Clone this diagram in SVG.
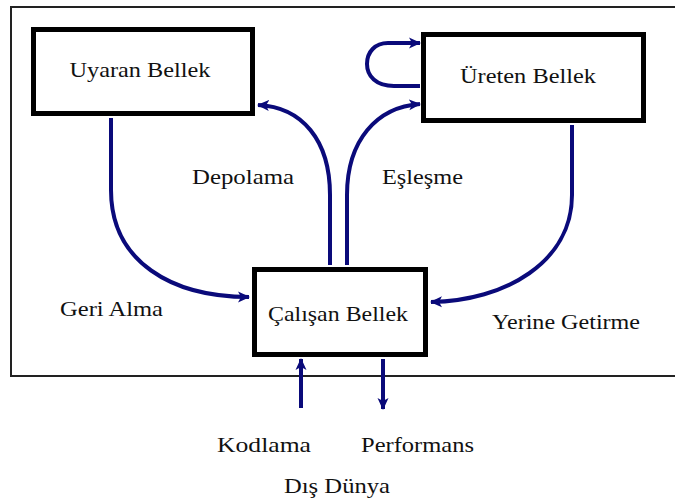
<svg xmlns="http://www.w3.org/2000/svg" width="675" height="501" viewBox="0 0 675 501">
<style>
.box{fill:#fff;stroke:#000;stroke-width:5}
.lbl{font-size:22px;fill:#111;text-anchor:middle}
.con{fill:none;stroke:#0a0a7a;stroke-width:4}
.arr{marker-end:url(#ah)}
</style>
<defs>
<marker id="ah" viewBox="0 0 12 12" refX="11" refY="6" markerWidth="12" markerHeight="12" markerUnits="userSpaceOnUse" orient="auto">
<path d="M0,0.5 L12,6 L0,11.5 L3,6 z" fill="#0a0a7a"/>
</marker>
</defs>
<rect width="675" height="501" fill="#fff"/>
<path id="frame" d="M675,7 H11 V376 H675" fill="none" stroke="#222" stroke-width="2"/>
<g id="connectors">
<path class="con arr" d="M111,118 V190 C111,262 172,297 249,297"/>
<path class="con arr" d="M572,125 V195 C572,262 505,301 431,302"/>
<path class="con arr" d="M330,265 V195 C330,140 302,107 258,105"/>
<path class="con arr" d="M347,265 V195 C347,140 377,107 420,104"/>
<path class="con arr" d="M420,86 H394 C376,86 367,76 367,64 C367,52 375,43 388,43 H420"/>
<path class="con arr" d="M301,408 V359"/>
<path class="con arr" d="M383,359 V409"/>
</g>
<g font-family="Liberation Serif, Times New Roman, serif">
<g id="uyaran">
<rect class="box" x="33.5" y="29.5" width="219" height="84"/>
<text class="lbl" x="140" y="77" textLength="141" lengthAdjust="spacingAndGlyphs">Uyaran Bellek</text>
</g>
<g id="ureten">
<rect class="box" x="423.5" y="34.5" width="220" height="86"/>
<text class="lbl" x="528" y="83" textLength="136" lengthAdjust="spacingAndGlyphs">Üreten Bellek</text>
</g>
<g id="calisan">
<rect class="box" x="254.5" y="269.5" width="171" height="85"/>
<text class="lbl" x="338" y="321" textLength="140" lengthAdjust="spacingAndGlyphs">Çalışan Bellek</text>
</g>
<g id="labels">
<text class="lbl" x="243" y="184" textLength="102" lengthAdjust="spacingAndGlyphs">Depolama</text>
<text class="lbl" x="422.5" y="184" textLength="81" lengthAdjust="spacingAndGlyphs">Eşleşme</text>
<text class="lbl" x="111.5" y="316" textLength="103" lengthAdjust="spacingAndGlyphs">Geri Alma</text>
<text class="lbl" x="566" y="329" textLength="148" lengthAdjust="spacingAndGlyphs">Yerine Getirme</text>
<text class="lbl" x="264" y="452" textLength="94" lengthAdjust="spacingAndGlyphs">Kodlama</text>
<text class="lbl" x="417.5" y="452" textLength="113" lengthAdjust="spacingAndGlyphs">Performans</text>
<text class="lbl" x="337" y="493" textLength="106" lengthAdjust="spacingAndGlyphs">Dış Dünya</text>
</g>
</g>
</svg>
